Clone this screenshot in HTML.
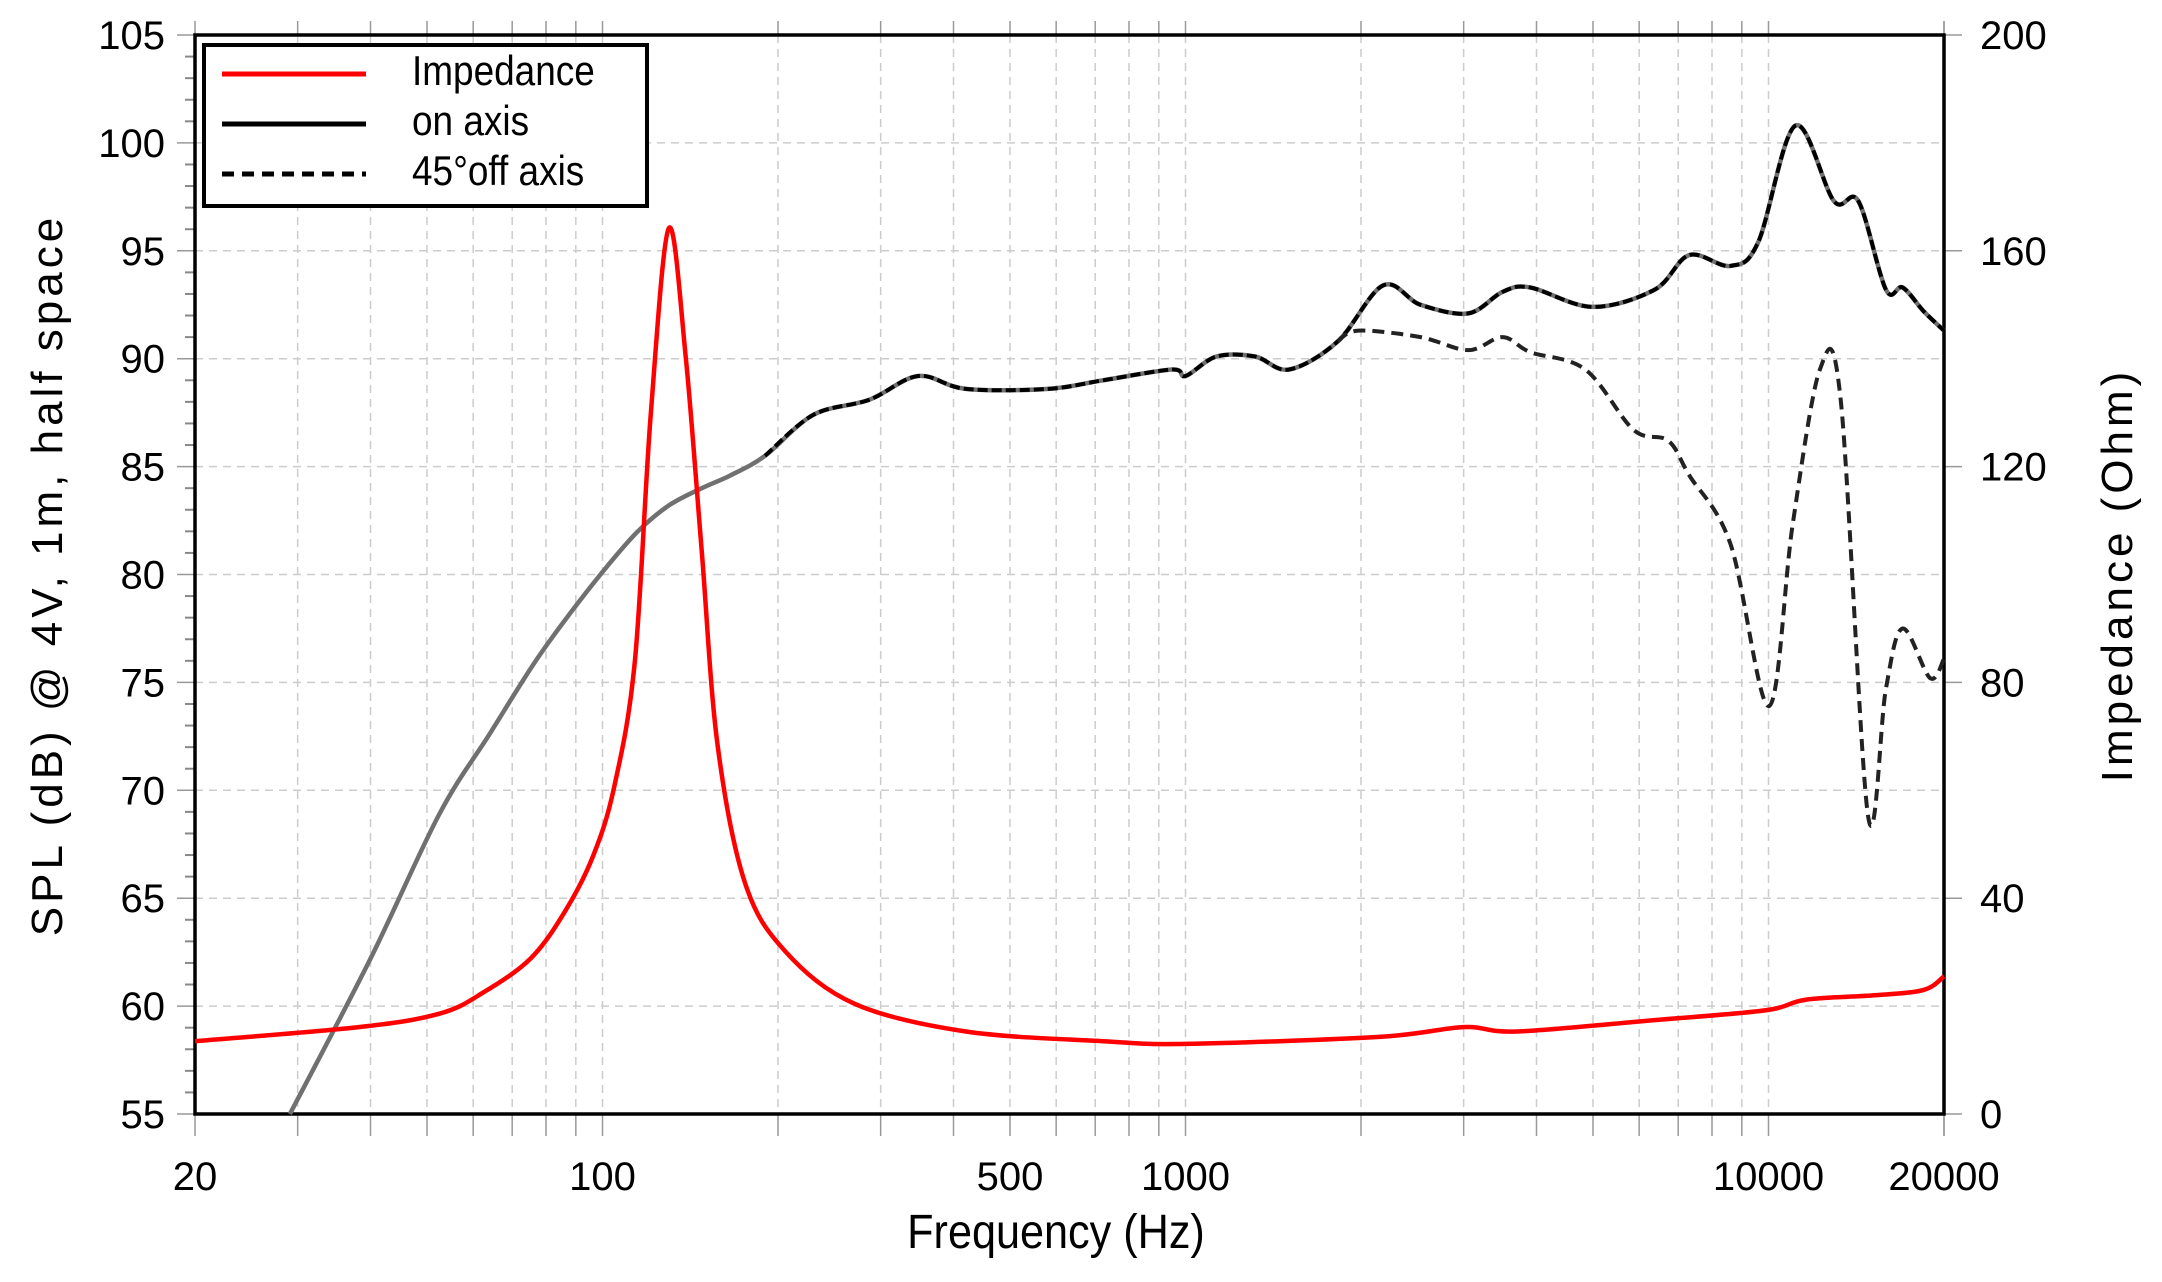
<!DOCTYPE html>
<html><head><meta charset="utf-8"><style>
html,body{margin:0;padding:0;background:#fff}
svg{display:block}
text{font-family:"Liberation Sans",sans-serif;fill:#000}
</style></head><body>
<svg id="chart" width="2162" height="1282" viewBox="0 0 2162 1282" xmlns="http://www.w3.org/2000/svg">
<g id="grid"></g>
<g id="axes"></g>
<g id="series"></g>
<g id="legend">
  <rect x="204" y="45" width="443" height="161" fill="#fff" stroke="#000" stroke-width="4"/>
  <line x1="222" y1="74" x2="366" y2="74" stroke="#f00" stroke-width="5"/>
  <text x="412" y="85" font-size="42" transform="translate(412,0) scale(0.88,1) translate(-412,0)">Impedance</text>
  <line x1="222" y1="124" x2="366" y2="124" stroke="#000" stroke-width="5"/>
  <text x="412" y="135" font-size="42" transform="translate(412,0) scale(0.88,1) translate(-412,0)">on axis</text>
  <line x1="222" y1="174" x2="366" y2="174" stroke="#000" stroke-width="5" stroke-dasharray="12,8"/>
  <text x="412" y="185" font-size="42" transform="translate(412,0) scale(0.88,1) translate(-412,0)">45°off axis</text>
</g>
<text x="1056" y="1248" font-size="48" text-anchor="middle" transform="translate(1056,0) scale(0.9,1) translate(-1056,0)">Frequency (Hz)</text>
<text x="0" y="0" font-size="44" letter-spacing="4" text-anchor="middle" transform="translate(62,575) rotate(-90)">SPL (dB) @ 4V, 1m, half space</text>
<text x="0" y="0" font-size="44" letter-spacing="4" text-anchor="middle" transform="translate(2132,575) rotate(-90)">Impedance (Ohm)</text>
</svg>
<script>
const onFreq=[29.1,40,52.5,64,76.4,88,102,115,130,148,166,190,230,287,348,420,581,722,949,1000,1130,1316,1506,1824,2184,2530,3055,3500,3905,4985,6380,7310,8610,9600,11120,12950,14260,15900,16990,18450,20000];
const onDb=[55,62.2,68.9,72.6,75.9,78.2,80.4,82.0,83.2,84.0,84.6,85.5,87.4,88.1,89.2,88.6,88.6,89.0,89.5,89.2,90.1,90.1,89.5,90.8,93.4,92.5,92.1,93.1,93.3,92.4,93.2,94.8,94.3,95.4,100.8,97.3,97.3,93.2,93.3,92.2,91.3];
const offFreq=[1824,1980,2530,3055,3500,3905,4850,5870,6730,7310,8610,10020,11000,12250,13300,14820,15900,16990,18930,20000];
const offDb=[90.8,91.3,91.0,90.4,91.0,90.3,89.5,86.7,86.2,84.6,81.4,73.9,82.3,89.5,88.1,68.8,74.7,77.5,75.2,76.1];
const impFreq=[20,38.2,52.5,62.4,75.4,86.5,96.5,104.8,113.6,121,130,139,148,157.5,175.5,206,271,420,722,1000,2150,3000,3700,6380,9860,11610,15200,18450,20000];
const impOhm=[13.5,16.1,18.6,22.5,28.9,37.8,48,60.8,83.8,129.8,164.2,140,104.2,68.5,42.9,30.1,20.4,15.3,13.5,13.0,14.3,16.1,15.3,17.4,19.2,21.2,22.0,23.0,25.5];
const yTicks=[55,60,65,70,75,80,85,90,95,100,105];
const y2Ticks=[0,40,80,120,160,200];
const xTickLabels=[20,100,500,1000,10000,20000];

const L=195,R=1944,T=35,B=1114;
const NS="http://www.w3.org/2000/svg";
function xs(f){return L+(Math.log10(f)-Math.log10(20))/3*(R-L);}
function ys(d){return B-(d-55)/50*(B-T);}
function y2s(o){return B-o/200*(B-T);}
function mk(tag,attrs,parent){const e=document.createElementNS(NS,tag);for(const k in attrs)e.setAttribute(k,attrs[k]);parent.appendChild(e);return e;}
const grid=document.getElementById('grid'),axes=document.getElementById('axes'),series=document.getElementById('series');

const xg=[];for(let d=10;d<=10000;d*=10)for(let m=1;m<10;m++){const f=m*d;if(f>=20&&f<=20000)xg.push(f);}
xg.push(20000);
xg.forEach(f=>{const x=xs(f);
 const g=mk('line',{x1:x,y1:T,x2:x,y2:B,stroke:'#ccc','stroke-width':1.5,'stroke-dasharray':'8,6'},grid);
 
 const t=mk('line',{x1:x,y1:T-14,x2:x,y2:T,stroke:'#999','stroke-width':1.5},axes);
 
 const t2=mk('line',{x1:x,y1:B,x2:x,y2:B+22,stroke:'#999','stroke-width':1.5},axes);
 
});
yTicks.forEach(v=>{const y=ys(v);
 const g=mk('line',{x1:L,y1:y,x2:R,y2:y,stroke:'#ccc','stroke-width':1.5,'stroke-dasharray':'8,6'},grid);
 
 const t=mk('line',{x1:L-18,y1:y,x2:L,y2:y,stroke:'#999','stroke-width':1.5},axes);
 
 const lb=mk('text',{x:L-30,y:y+14,'font-size':40,'text-anchor':'end'},axes);lb.textContent=v;
 
});
for(let v=55;v<=105;v++){if(v%5===0)continue;const y=ys(v);
 const t=mk('line',{x1:L-10,y1:y,x2:L,y2:y,stroke:'#888','stroke-width':2},axes);
 }
y2Ticks.forEach(v=>{const y=y2s(v);
 const t=mk('line',{x1:R,y1:y,x2:R+18,y2:y,stroke:'#999','stroke-width':1.5},axes);
 
 const lb=mk('text',{x:R+36,y:y+14,'font-size':40},axes);lb.textContent=v;
 
});
xTickLabels.forEach(f=>{const lb=mk('text',{x:xs(f),y:1190,'font-size':40,'text-anchor':'middle'},axes);lb.textContent=f;
 });
const frame=mk('rect',{x:L,y:T,width:R-L,height:B-T,fill:'none',stroke:'#000','stroke-width':3.5},axes);


function smoothPath(px){let d='M'+px[0][0].toFixed(1)+','+px[0][1].toFixed(1);
 for(let i=0;i<px.length-1;i++){const p0=px[Math.max(0,i-1)],p1=px[i],p2=px[i+1],p3=px[Math.min(px.length-1,i+2)];
  const c1=[p1[0]+(p2[0]-p0[0])/6,p1[1]+(p2[1]-p0[1])/6],c2=[p2[0]-(p3[0]-p1[0])/6,p2[1]-(p3[1]-p1[1])/6];
  d+=' C'+c1[0].toFixed(1)+','+c1[1].toFixed(1)+' '+c2[0].toFixed(1)+','+c2[1].toFixed(1)+' '+p2[0].toFixed(1)+','+p2[1].toFixed(1);}
 return d;}
const onPts=onFreq.map((f,i)=>[xs(f),ys(onDb[i])]);
const offPts=offFreq.map((f,i)=>[xs(f),ys(offDb[i])]);
const impPts=impFreq.map((f,i)=>[xs(f),y2s(impOhm[i])]);

const onBase=mk('path',{d:smoothPath(onPts),fill:'none',stroke:'#707070','stroke-width':4.5},series);

const onHi=onPts.filter((p,i)=>onFreq[i]>=190);
const onDash=mk('path',{d:smoothPath(onHi),fill:'none',stroke:'#000','stroke-width':4,'stroke-dasharray':'10,4'},series);

const offLine=mk('path',{d:smoothPath(offPts),fill:'none',stroke:'#222','stroke-width':4,'stroke-dasharray':'12,7'},series);

const impLine=mk('path',{d:smoothPath(impPts),fill:'none',stroke:'#f00','stroke-width':4.5},series);

</script>
</body></html>
